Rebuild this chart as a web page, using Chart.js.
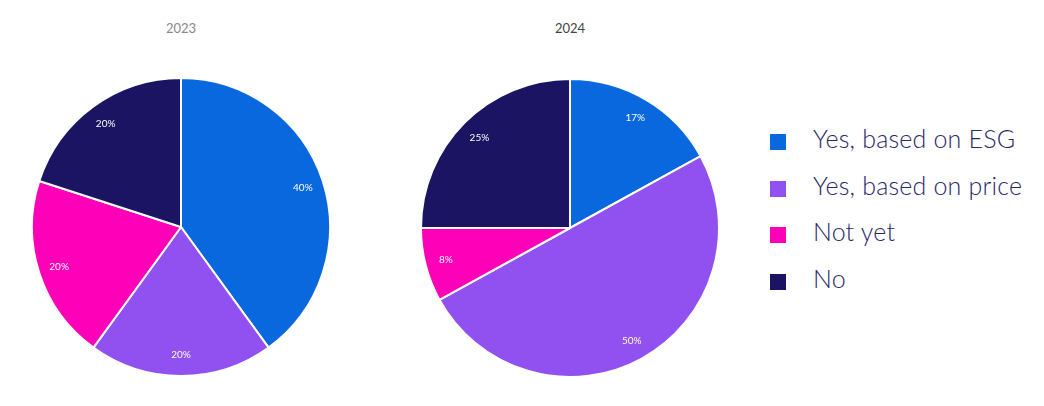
<!DOCTYPE html>
<html>
<head>
<meta charset="utf-8">
<script src="https://cdn.jsdelivr.net/npm/chart.js@4"></script>
<style>
  body { margin: 0; background: #fff; width: 1044px; height: 406px; position: relative; overflow: hidden; font-family: Lato, sans-serif; }
  .pie { position: absolute; width: 300px; height: 300px; }
  .title { position: absolute; top: 20px; width: 120px; text-align: center; font-size: 13px; color: #888; }
  #legend { position: absolute; left: 770px; top: 115px; }
  .item { display: flex; align-items: center; height: 46.5px; font-size: 25px; font-weight: 300; color: #2b2868; letter-spacing: 0.2px; }
  .box { width: 16px; height: 16px; margin-right: 27px; margin-top: 8px; }
</style>
</head>
<body>
<div class="title" style="left:121px">2023</div>
<div class="title" style="left:510px; color:#444">2024</div>
<div class="pie" style="left:31px; top:77px"><canvas id="pie2023"></canvas></div>
<div class="pie" style="left:420px; top:78px"><canvas id="pie2024"></canvas></div>
<div id="legend"></div>
<script>
const categories = ['Yes, based on ESG', 'Yes, based on price', 'Not yet', 'No'];
const values2023 = [40, 20, 20, 20];
const values2024 = [17, 50, 8, 25];
const colors = ['#0a68de', '#9150f0', '#ff00b9', '#1b1462'];

// percentage labels drawn inside each slice
const sliceLabels = {
  id: 'sliceLabels',
  afterDatasetsDraw(chart) {
    const ctx = chart.ctx;
    const meta = chart.getDatasetMeta(0);
    ctx.save();
    ctx.fillStyle = '#fff';
    ctx.font = '10px Lato, sans-serif';
    ctx.textAlign = 'center';
    ctx.textBaseline = 'middle';
    meta.data.forEach((arc, i) => {
      const p = arc.getProps(['x', 'y', 'startAngle', 'endAngle', 'outerRadius'], true);
      const mid = (p.startAngle + p.endAngle) / 2;
      const r = p.outerRadius * 0.86;
      ctx.fillText(chart.data.datasets[0].data[i] + '%', p.x + Math.cos(mid) * r, p.y + Math.sin(mid) * r);
    });
    ctx.restore();
  }
};

function drawPie(canvasId, data) {
  new Chart(document.getElementById(canvasId), {
    type: 'pie',
    data: {
      labels: categories,
      datasets: [{
        data: data,
        backgroundColor: colors,
        borderColor: '#fff',
        borderWidth: 2
      }]
    },
    options: {
      responsive: true,
      maintainAspectRatio: false,
      animation: false,
      layout: { padding: 0 },
      plugins: {
        legend: { display: false },
        tooltip: { enabled: false }
      }
    },
    plugins: [sliceLabels]
  });
}

drawPie('pie2023', values2023);
drawPie('pie2024', values2024);

const legend = document.getElementById('legend');
categories.forEach((name, i) => {
  const item = document.createElement('div');
  item.className = 'item';
  item.innerHTML = '<span class="box" style="background:' + colors[i] + '"></span>' + name;
  legend.appendChild(item);
});
</script>
</body>
</html>
